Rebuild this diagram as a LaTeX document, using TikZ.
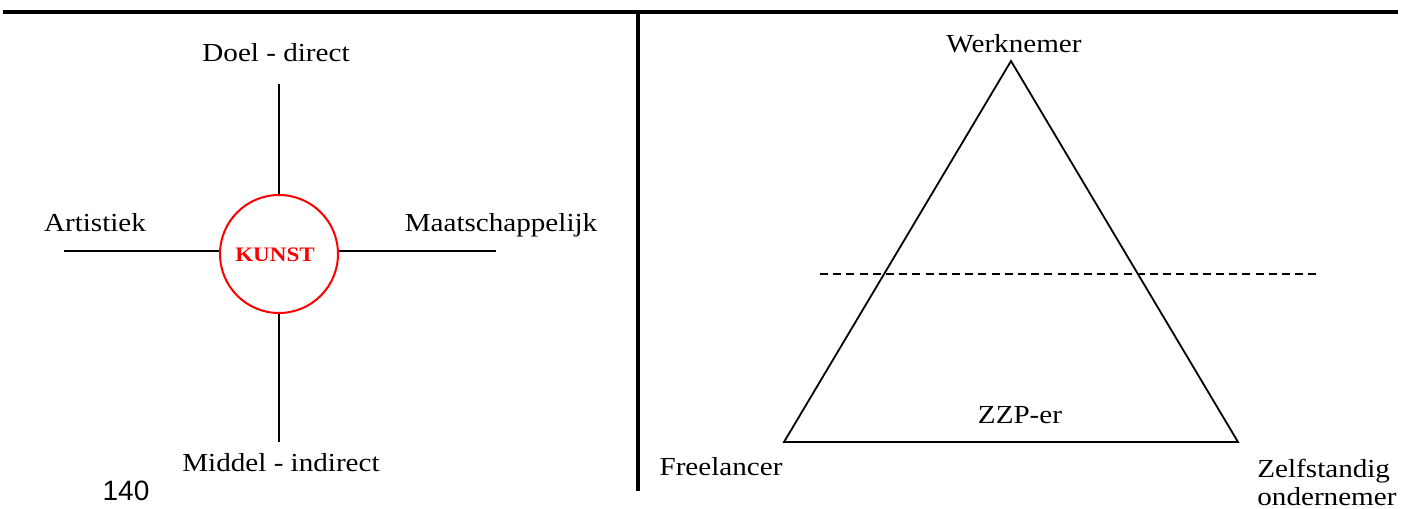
\documentclass[tikz,border=0pt]{standalone}
\usepackage{fontspec}
\setmainfont[FakeStretch=1.12]{Liberation Serif}
\newfontfamily\numfont{Liberation Sans}
\begin{document}
\begin{tikzpicture}[x=0.5pt,y=-0.5pt,
  label/.style={font=\fontsize{13}{15}\selectfont, inner sep=0pt, anchor=base},
  thin/.style={line width=0.9pt, black},
  frame/.style={line width=1.6pt, black}]
\useasboundingbox (0,0) rectangle (1415,509);

% page frame: top rule and column divider
\coordinate (tl) at (3,12);
\coordinate (tr) at (1398,12);
\coordinate (db) at (638,491);
\draw[frame] (tl) -- (tr);
\draw[frame] (638,12) -- (db);

% left panel: the KUNST cross
\node[circle, draw=red, line width=1pt, minimum size=59pt, inner sep=0pt] (kunst) at (279,254) {};
\node[text=red, font=\bfseries\fontsize{10.3}{12}\selectfont, inner sep=0pt, anchor=base] (kunstlbl) at (275,261) {KUNST};
\coordinate (ntop) at (279,84);
\coordinate (nbot) at (279,442);
\coordinate (nleft) at (64,251);
\coordinate (nright) at (496,251);
\draw[thin] (kunst.north) -- (ntop);
\draw[thin] (kunst.south) -- (nbot);
\draw[thin] (kunst.west |- nleft) -- (nleft);
\draw[thin] (kunst.east |- nright) -- (nright);

\node[label] (doel) at (276,61) {Doel - direct};
\node[label] (middel) at (281,471) {Middel - indirect};
\node[label] (art) at (95,231) {Artistiek};
\node[label] (maat) at (501,231) {Maatschappelijk};
\node[font=\numfont\fontsize{14}{16}\selectfont, inner sep=0pt, anchor=base] (page) at (126,500) {140};

% right panel: the triangle
\coordinate (apex) at (1011,61);
\coordinate (bl) at (784,442);
\coordinate (br) at (1238,442);
\draw[thin, line join=miter] (apex) -- (bl) -- (br) -- cycle;
\coordinate (dl) at (820,274);
\coordinate (dr) at (1318,274);
\draw[thin, dash pattern=on 4pt off 2.6pt] (dl) -- (dr);

\node[label] (werk) at (1014,52) {Werknemer};
\node[label] (zzp) at (1020,423) {ZZP-er};
\node[label] (free) at (721,475) {Freelancer};
\node[label, anchor=base west] (zelf) at (1257,477) {Zelfstandig};
\node[label, anchor=base west] (onder) at (1257,505) {ondernemer};
\end{tikzpicture}
\end{document}
